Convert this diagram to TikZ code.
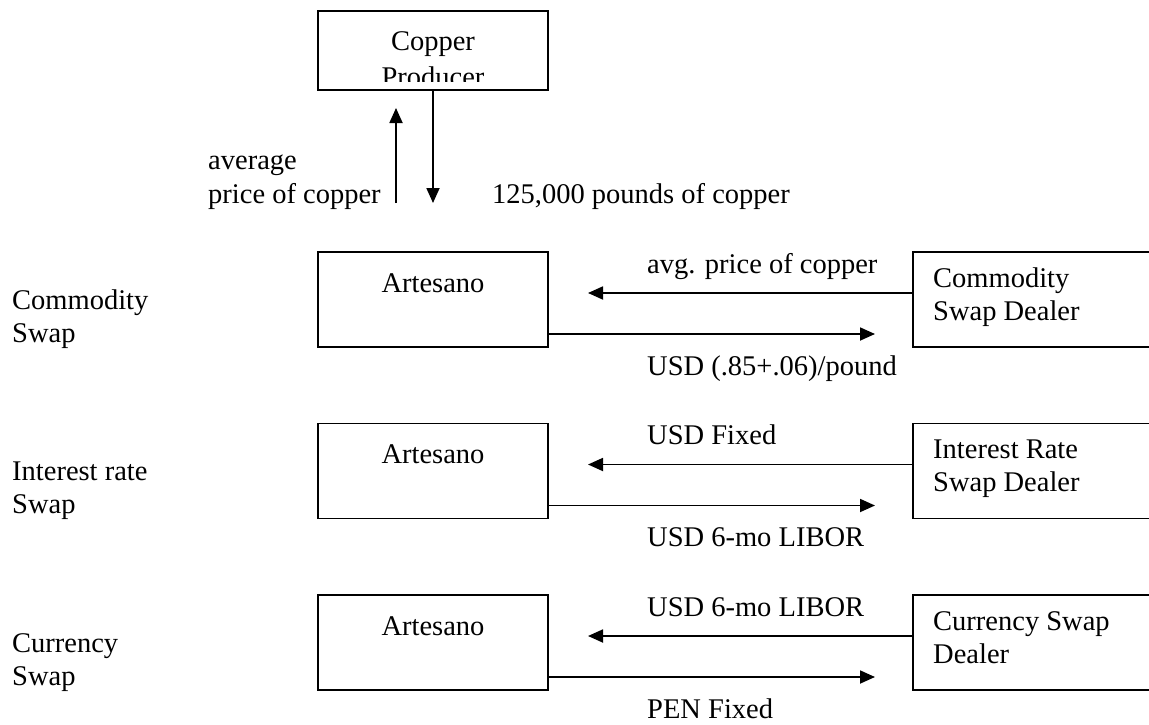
\documentclass[tikz,border=0pt]{standalone}
\usepackage{fontspec}
\setmainfont{Liberation Serif}
\usetikzlibrary{arrows.meta}
\begin{document}
\begin{tikzpicture}[x=1pt,y=-1pt,
  box/.style={draw,line width=1.8pt,inner sep=0pt,minimum width=230pt,minimum height=95pt},
  dealer/.style={draw,line width=1.8pt,inner sep=0pt,minimum width=300pt,minimum height=95pt},
  txt/.style={font=\fontsize{28.5pt}{33pt}\selectfont,inner sep=0pt,anchor=base west},
  ctxt/.style={font=\fontsize{28.5pt}{33pt}\selectfont,inner sep=0pt,anchor=base},
  arr/.style={line width=1.8pt,-{Triangle[length=15pt,width=13pt]}}]
\useasboundingbox (0,0) rectangle (1149,725);
\clip (0,0) rectangle (1149,725);

% Copper producer
\node[box,minimum height=79pt] (cp) at (433,50.5) {};
\begin{scope}
  \clip (318,11) rectangle (548,82);
  \node[ctxt] (cptxt1) at (433,51) {Copper};
  \node[ctxt] (cptxt2) at (433,87) {Producer};
\end{scope}
\coordinate (upbot) at (396,203);
\coordinate (uptop) at (396,108);
\draw[arr] (upbot) -- (uptop);
\coordinate (dntip) at (433,203);
\draw[arr] (cp.south) -- (dntip);
\node[txt] (avg1) at (208,169) {average};
\node[txt] (avg2) at (208,203) {price of copper};
\node[txt] (qty) at (492,203) {125,000 pounds of copper};

% Commodity swap
\node[box] (a1) at (433,299.5) {};
\node[ctxt] (a1t) at (433,292) {Artesano};
\node[dealer] (d1) at (1063,299.5) {};
\node[txt] (d1t1) at (933,287) {Commodity};
\node[txt] (d1t2) at (933,320) {Swap Dealer};
\node[txt] (l1a) at (12,309) {Commodity};
\node[txt] (l1b) at (12,342) {Swap};
\coordinate (t1a) at (588,293);
\coordinate (t1b) at (875,334);
\draw[arr] (d1.west |- t1a) -- (t1a);
\draw[arr] (a1.east |- t1b) -- (t1b);
\node[txt] (u1) at (647,273) {avg. price of copper};
\node[txt] (b1) at (647,375) {USD (.85+.06)/pound};

% Interest rate swap
\node[box] (a2) at (433,471) {};
\node[ctxt] (a2t) at (433,463.5) {Artesano};
\node[dealer] (d2) at (1063,471) {};
\node[txt] (d2t1) at (933,458.5) {Interest Rate};
\node[txt] (d2t2) at (933,491.5) {Swap Dealer};
\node[txt] (l2a) at (12,480.5) {Interest rate};
\node[txt] (l2b) at (12,513.5) {Swap};
\coordinate (t2a) at (588,464.5);
\coordinate (t2b) at (875,505.5);
\draw[arr] (d2.west |- t2a) -- (t2a);
\draw[arr] (a2.east |- t2b) -- (t2b);
\node[txt] (u2) at (647,444.5) {USD Fixed};
\node[txt] (b2) at (647,546.5) {USD 6-mo LIBOR};

% Currency swap
\node[box] (a3) at (433,642.5) {};
\node[ctxt] (a3t) at (433,635) {Artesano};
\node[dealer] (d3) at (1063,642.5) {};
\node[txt] (d3t1) at (933,630) {Currency Swap};
\node[txt] (d3t2) at (933,663) {Dealer};
\node[txt] (l3a) at (12,652) {Currency};
\node[txt] (l3b) at (12,685) {Swap};
\coordinate (t3a) at (588,636);
\coordinate (t3b) at (875,677);
\draw[arr] (d3.west |- t3a) -- (t3a);
\draw[arr] (a3.east |- t3b) -- (t3b);
\node[txt] (u3) at (647,616) {USD 6-mo LIBOR};
\node[txt] (b3) at (647,718) {PEN Fixed};
\end{tikzpicture}
\end{document}
